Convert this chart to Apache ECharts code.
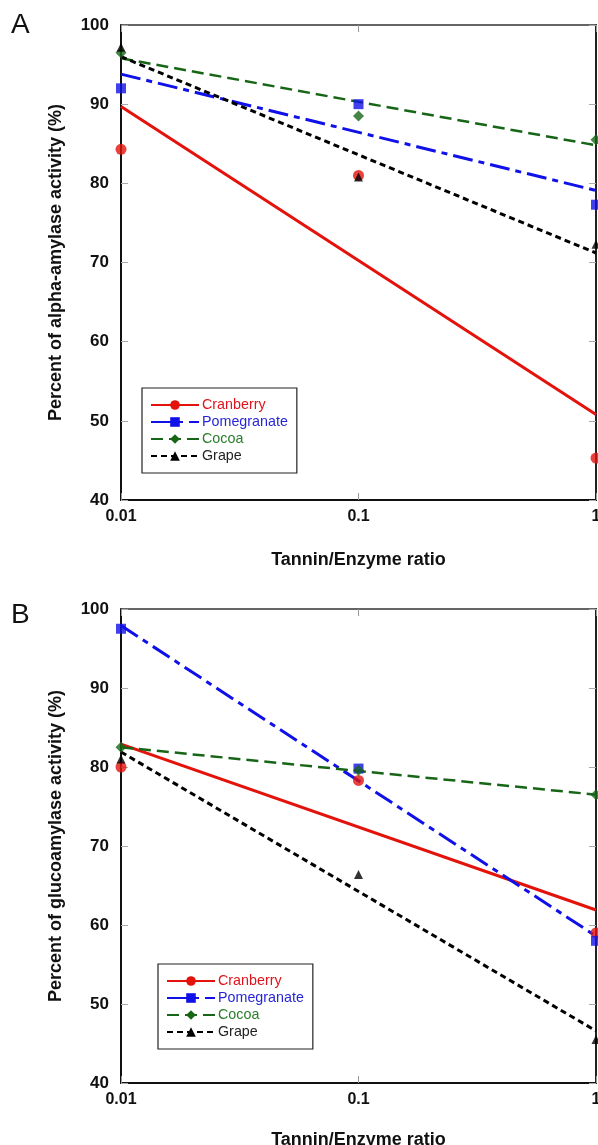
<!DOCTYPE html>
<html>
<head>
<meta charset="utf-8">
<script src="https://cdn.jsdelivr.net/npm/echarts@6/dist/echarts.min.js"></script>
<style>
html, body { margin: 0; padding: 0; background: #fff; }
#chart { width: 598px; height: 1145px; }
</style>
</head>
<body>
<div id="chart"></div>
<script>
// tannin/enzyme ratios (log axis)
const ratios = [0.01, 0.1, 1];
const fitEnds = [0.01, 1];
const fruits = ['Cranberry', 'Pomegranate', 'Cocoa', 'Grape'];
const yTicks = [40, 50, 60, 70, 80, 90, 100];

// panel A - alpha-amylase activity (%)
const alphaCranberry = [84.3, 81.0, 45.3];
const alphaPomegranate = [92.0, 90.0, 77.3];
const alphaCocoa = [96.5, 88.5, 85.5];
const alphaGrape = [97.2, 80.8, 72.3];
// trend lines, value at 0.01 and at 1
const alphaFitCranberry = [89.7, 50.8];
const alphaFitPomegranate = [93.8, 79.1];
const alphaFitCocoa = [95.8, 84.8];
const alphaFitGrape = [96.0, 71.2];

// panel B - glucoamylase activity (%)
const glucoCranberry = [80.0, 78.3, 59.0];
const glucoPomegranate = [97.5, 79.8, 58.0];
const glucoCocoa = [82.5, 79.6, 76.5];
const glucoGrape = [81.0, 66.4, 45.5];
const glucoFitCranberry = [82.9, 61.9];
const glucoFitPomegranate = [97.9, 58.6];
const glucoFitCocoa = [82.5, 76.5];
const glucoFitGrape = [81.9, 46.6];

const look = {
  Cranberry:   { color: '#e3120b', text: '#e0141a', symbol: 'circle',   size: 11, width: 3,   type: 'solid' },
  Pomegranate: { color: '#1010e8', text: '#2626d8', symbol: 'rect',     size: 10, width: 3,   type: [20, 6, 6, 6] },
  Cocoa:       { color: '#176617', text: '#2a7d2a', symbol: 'diamond',  size: 11, width: 2.5, type: [12, 6] },
  Grape:       { color: '#000000', text: '#222222', symbol: 'triangle', size: 9,  width: 3,   type: [6, 4] }
};

const FONT = '"Liberation Sans", Arial, sans-serif';

function panelSeries(gi, points, fits) {
  const out = [];
  fruits.forEach((f, i) => {
    const s = look[f];
    out.push({
      name: f,
      type: 'line',
      xAxisIndex: gi * 2,
      yAxisIndex: gi * 2,
      data: fitEnds.map((x, k) => [x, fits[i][k]]),
      symbol: s.symbol,
      symbolSize: s.size,
      showSymbol: false,
      itemStyle: { color: s.color },
      lineStyle: { color: s.color, width: s.width, type: s.type },
      silent: true,
      z: 2
    });
  });
  fruits.forEach((f, i) => {
    const s = look[f];
    out.push({
      name: f,
      type: 'scatter',
      xAxisIndex: gi * 2,
      yAxisIndex: gi * 2,
      data: ratios.map((x, k) => [x, points[i][k]]),
      symbol: s.symbol,
      symbolSize: s.size,
      itemStyle: { color: s.color },
      clip: false,
      silent: true,
      z: 3
    });
  });
  return out;
}

const grids = [
  { left: 121, top: 25, width: 475, height: 475, outerBoundsMode: 'none', containLabel: false },
  { left: 121, top: 609, width: 475, height: 474, outerBoundsMode: 'none', containLabel: false }
];

const xAxes = [], yAxes = [];
grids.forEach((g, gi) => {
  xAxes.push({
    type: 'log', logBase: 10, min: 0.01, max: 1, gridIndex: gi, position: 'bottom',
    name: 'Tannin/Enzyme ratio', nameLocation: 'middle', nameGap: gi === 0 ? 51 : 48,
    nameTextStyle: { fontFamily: FONT, fontSize: 18, fontWeight: 'bold', color: '#111' },
    axisLine: { lineStyle: { color: '#111', width: 2 } },
    axisTick: { inside: true, length: 7, lineStyle: { color: '#999' } },
    axisLabel: {
      fontFamily: FONT, fontSize: 16, fontWeight: 'bold', color: '#111', margin: 9,
      formatter: v => String(+Number(v).toPrecision(2))
    },
    splitLine: { show: false }
  });
  xAxes.push({
    type: 'log', logBase: 10, min: 0.01, max: 1, gridIndex: gi, position: 'top',
    axisLine: { lineStyle: { color: '#333', width: 1.5 } },
    axisTick: { inside: true, length: 7, lineStyle: { color: '#999' } },
    axisLabel: { show: false },
    splitLine: { show: false }
  });
  yAxes.push({
    type: 'value', min: 40, max: 100, interval: 10, gridIndex: gi, position: 'left',
    name: gi === 0 ? 'Percent of alpha-amylase activity (%)' : 'Percent of glucoamylase activity (%)',
    nameLocation: 'middle', nameGap: 56,
    nameTextStyle: { fontFamily: FONT, fontSize: 18, fontWeight: 'bold', color: '#111' },
    axisLine: { lineStyle: { color: '#111', width: 2 } },
    axisTick: { inside: true, length: 7, lineStyle: { color: '#aaa' } },
    axisLabel: {
      fontFamily: FONT, fontSize: 17, fontWeight: 'bold', color: '#111', margin: 12,
      formatter: v => yTicks.includes(v) ? String(v) : ''
    },
    splitLine: { show: false }
  });
  yAxes.push({
    type: 'value', min: 40, max: 100, interval: 10, gridIndex: gi, position: 'right',
    axisLine: { lineStyle: { color: '#222', width: 2 } },
    axisTick: { inside: true, length: 7, lineStyle: { color: '#aaa' } },
    axisLabel: { show: false },
    splitLine: { show: false }
  });
});

function legendFor(top, left) {
  return {
    orient: 'vertical', left: left, top: top,
    backgroundColor: '#fff', borderColor: '#222', borderWidth: 1.2,
    padding: [9, 9, 9, 8],
    itemWidth: 48, itemHeight: 12, itemGap: 1,
    selectedMode: false,
    textStyle: { fontFamily: FONT, fontSize: 14.3, lineHeight: 16, padding: [0, 0, 0, -2] },
    data: fruits.map(f => ({ name: f, textStyle: { color: look[f].text } }))
  };
}

const chart = echarts.init(document.getElementById('chart'), null, { renderer: 'canvas' });
chart.setOption({
  animation: false,
  backgroundColor: '#fff',
  title: [
    { text: 'A', left: 11, top: 11, padding: 0, textStyle: { fontFamily: FONT, fontSize: 28, fontWeight: 'normal', color: '#111' } },
    { text: 'B', left: 11, top: 601, padding: 0, textStyle: { fontFamily: FONT, fontSize: 28, fontWeight: 'normal', color: '#111' } }
  ],
  legend: [legendFor(388, 142), legendFor(964, 158)],
  grid: grids,
  xAxis: xAxes,
  yAxis: yAxes,
  series: [].concat(
    panelSeries(0,
      [alphaCranberry, alphaPomegranate, alphaCocoa, alphaGrape],
      [alphaFitCranberry, alphaFitPomegranate, alphaFitCocoa, alphaFitGrape]),
    panelSeries(1,
      [glucoCranberry, glucoPomegranate, glucoCocoa, glucoGrape],
      [glucoFitCranberry, glucoFitPomegranate, glucoFitCocoa, glucoFitGrape])
  )
});
</script>
</body>
</html>
